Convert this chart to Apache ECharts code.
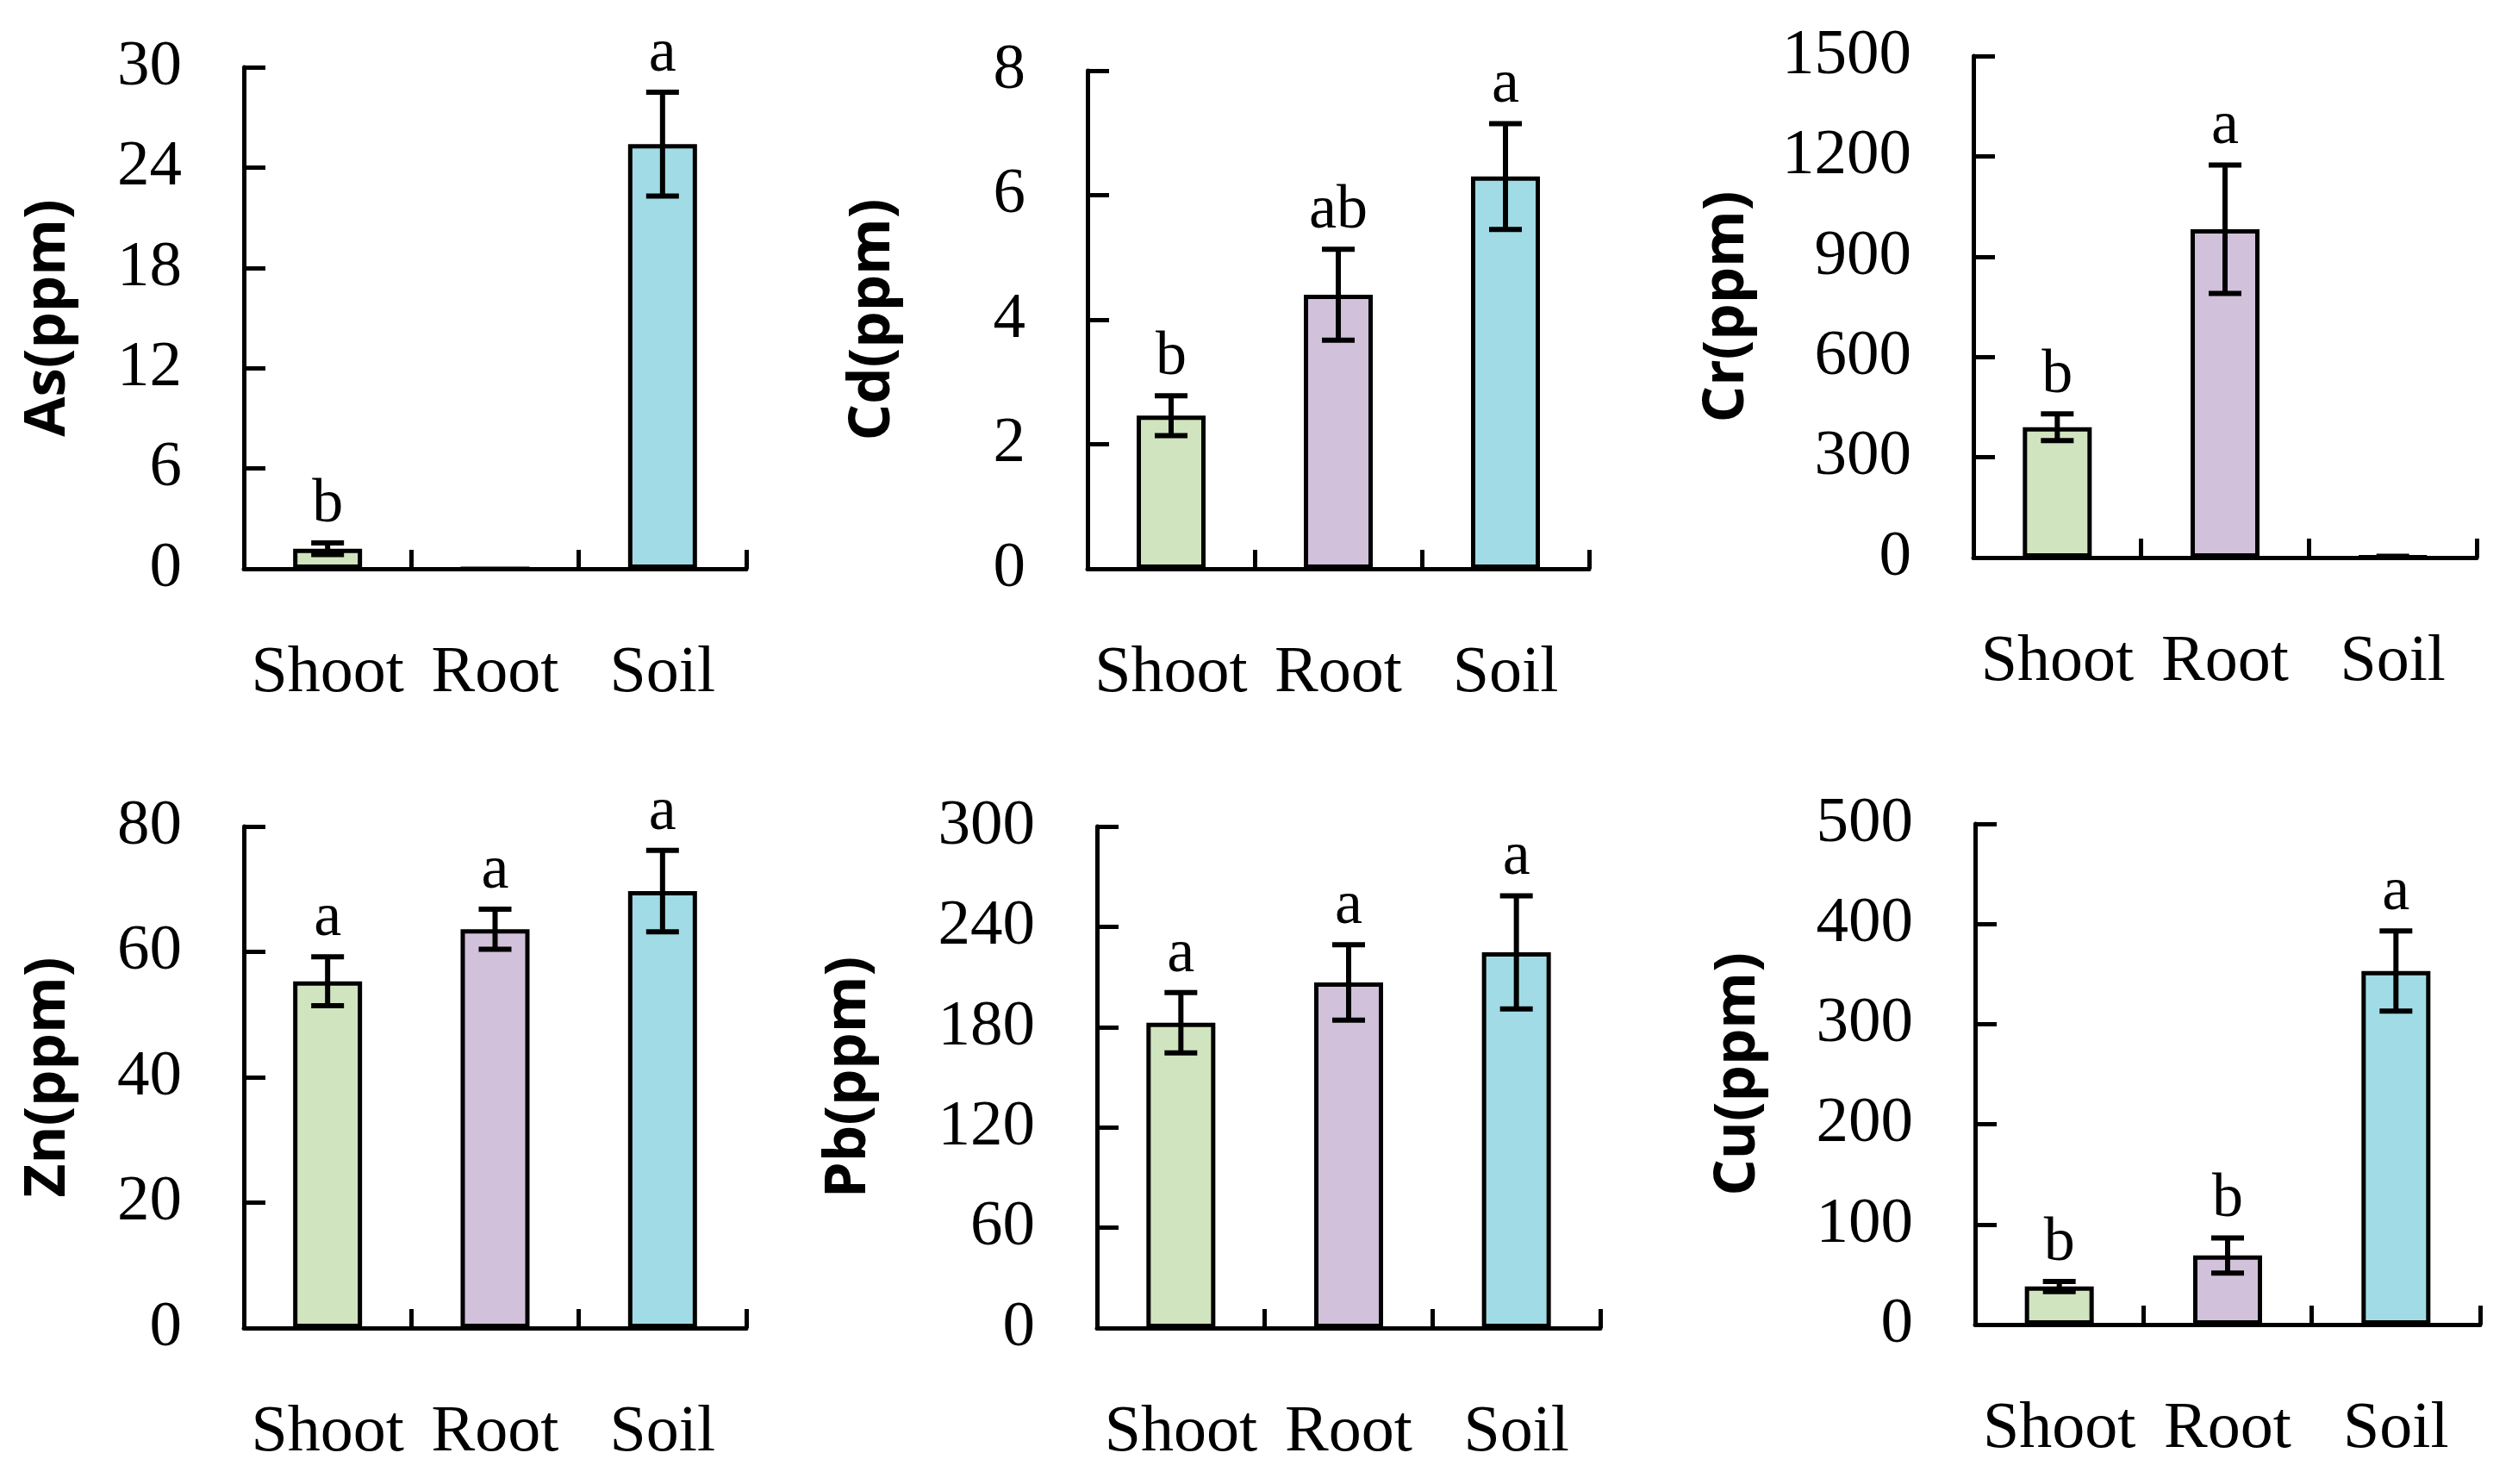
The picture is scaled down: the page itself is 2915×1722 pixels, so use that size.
<!DOCTYPE html>
<html>
<head>
<meta charset="utf-8">
<script src="https://cdn.jsdelivr.net/npm/echarts@6/dist/echarts.min.js"></script>
<style>
  html, body { margin: 0; padding: 0; background: #fff; }
  #chart { width: 2915px; height: 1722px; }
</style>
</head>
<body>
<div id="chart"></div>
<script>
const categories = ['Shoot', 'Root', 'Soil']
const barColors = ['#d0e4bf', '#d1c1da', '#a1dce6']

// As
const asMeans = [1.2, 0, 25.4]
const asErrors = [0.35, 0, 3.1]
const asLetters = ['b', '', 'a']
const asTicks = [0, 6, 12, 18, 24, 30]

// Cd
const cdMeans = [2.46, 4.4, 6.3]
const cdErrors = [0.32, 0.73, 0.85]
const cdLetters = ['b', 'ab', 'a']
const cdTicks = [0, 2, 4, 6, 8]

// Cr
const crMeans = [390, 982, 2]
const crErrors = [40, 192, 2]
const crLetters = ['b', 'a', '']
const crTicks = [0, 300, 600, 900, 1200, 1500]

// Zn
const znMeans = [55.3, 63.6, 69.7]
const znErrors = [3.9, 3.2, 6.5]
const znLetters = ['a', 'a', 'a']
const znTicks = [0, 20, 40, 60, 80]

// Pb
const pbMeans = [182.6, 206.7, 224.7]
const pbErrors = [18, 22.6, 33.8]
const pbLetters = ['a', 'a', 'a']
const pbTicks = [0, 60, 120, 180, 240, 300]

// Cu
const cuMeans = [38, 69, 353]
const cuErrors = [5, 17.5, 40]
const cuLetters = ['b', 'b', 'a']
const cuTicks = [0, 100, 200, 300, 400, 500]

const panels = [
  { name: 'As(ppm)', means: asMeans, errors: asErrors, letters: asLetters, ticks: asTicks },
  { name: 'Cd(ppm)', means: cdMeans, errors: cdErrors, letters: cdLetters, ticks: cdTicks },
  { name: 'Cr(ppm)', means: crMeans, errors: crErrors, letters: crLetters, ticks: crTicks },
  { name: 'Zn(ppm)', means: znMeans, errors: znErrors, letters: znLetters, ticks: znTicks },
  { name: 'Pb(ppm)', means: pbMeans, errors: pbErrors, letters: pbLetters, ticks: pbTicks },
  { name: 'Cu(ppm)', means: cuMeans, errors: cuErrors, letters: cuLetters, ticks: cuTicks }
]

// grid boxes in px
const layouts = [
  { left: 283, top: 78, width: 583, height: 582, nameGap: 194 },
  { left: 1262, top: 82, width: 582, height: 578, nameGap: 216 },
  { left: 2290, top: 65, width: 584, height: 582, nameGap: 253 },
  { left: 283, top: 959, width: 583, height: 582, nameGap: 194 },
  { left: 1273, top: 959, width: 584, height: 582, nameGap: 255 },
  { left: 2292, top: 956, width: 586, height: 581, nameGap: 242 }
]

const serif = '"Liberation Serif", "Times New Roman", serif'
const black = '#000'

const chart = echarts.init(document.getElementById('chart'), null, { renderer: 'canvas' })

const grids = []
const xAxes = []
const yAxes = []
const series = []

panels.forEach((p, k) => {
  const lay = layouts[k]
  grids.push({ left: lay.left, top: lay.top, width: lay.width, height: lay.height, containLabel: false })
  xAxes.push({
    type: 'category',
    gridIndex: k,
    data: categories,
    boundaryGap: true,
    axisLine: { lineStyle: { color: black, width: 5 } },
    axisTick: { show: true, interval: 0, inside: true, length: 22, lineStyle: { color: black, width: 5 } },
    axisLabel: { interval: 0, hideOverlap: false, color: black, fontFamily: serif, fontSize: 76, margin: 84 },
    splitLine: { show: false }
  })
  yAxes.push({
    type: 'value',
    gridIndex: k,
    min: p.ticks[0],
    max: p.ticks[p.ticks.length - 1],
    interval: p.ticks[1] - p.ticks[0],
    name: p.name,
    nameLocation: 'middle',
    nameGap: lay.nameGap,
    nameTextStyle: { color: black, fontFamily: '"Open Sans", sans-serif', fontWeight: 'bold', fontSize: 67 },
    axisLine: { show: true, lineStyle: { color: black, width: 5 } },
    axisTick: { show: true, inside: true, length: 25, lineStyle: { color: black, width: 5 } },
    axisLabel: { color: black, fontFamily: serif, fontSize: 75, margin: 72, formatter: (v) => String(v) },
    splitLine: { show: false }
  })
  series.push({
    type: 'bar',
    xAxisIndex: k,
    yAxisIndex: k,
    barWidth: 80,
    data: p.means.map((v, i) => ({
      value: v,
      itemStyle: { color: barColors[i], borderColor: black, borderWidth: 5 }
    })),
    silent: true
  })
  series.push({
    type: 'custom',
    xAxisIndex: k,
    yAxisIndex: k,
    data: p.means.map((v, i) => [i, v, p.errors[i]]),
    z: 5,
    silent: true,
    renderItem: (params, api) => {
      const i = api.value(0)
      const mean = api.value(1)
      const err = api.value(2)
      const letter = p.letters[params.dataIndex]
      const hi = api.coord([i, mean + err])
      const lo = api.coord([i, mean - err])
      const half = 19
      const style = { stroke: black, lineWidth: 6 }
      const children = []
      if (err > 0) {
        children.push(
          { type: 'line', shape: { x1: hi[0], y1: hi[1], x2: lo[0], y2: lo[1] }, style },
          { type: 'line', shape: { x1: hi[0] - half, y1: hi[1], x2: hi[0] + half, y2: hi[1] }, style },
          { type: 'line', shape: { x1: lo[0] - half, y1: lo[1], x2: lo[0] + half, y2: lo[1] }, style }
        )
      }
      if (letter) {
        children.push({
          type: 'text',
          x: hi[0],
          y: hi[1] - 8,
          style: {
            text: letter,
            fill: black,
            font: '72px ' + serif,
            textAlign: 'center',
            textVerticalAlign: 'bottom'
          }
        })
      }
      return { type: 'group', children }
    }
  })
})

chart.setOption({
  backgroundColor: '#fff',
  animation: false,
  grid: grids,
  xAxis: xAxes,
  yAxis: yAxes,
  series
})
</script>
</body>
</html>
